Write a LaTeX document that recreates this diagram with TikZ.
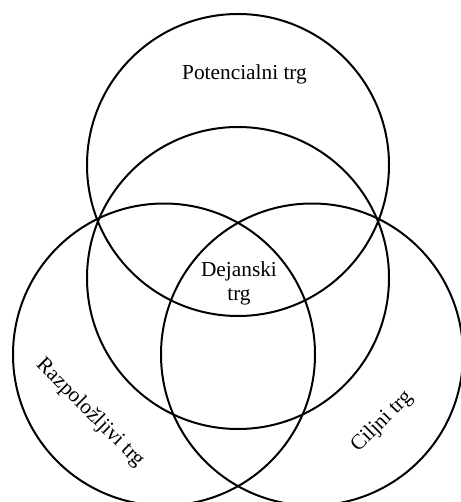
\documentclass[tikz,border=0pt]{standalone}
\usepackage{fontspec}
\setmainfont{Liberation Serif}
\usepackage{tikz}
\usetikzlibrary{positioning}

\begin{document}
\begin{tikzpicture}[x=0.75pt,y=-0.75pt]
	\tikzset{
		ring/.style={circle, draw=black, line width=1.5pt,
			minimum size=226.5pt, inner sep=0pt},
		lbl/.style={font=\fontsize{16}{18}\selectfont, inner sep=1pt, align=center}
	}
	\useasboundingbox (0,0) rectangle (460,502);
	
	% circles
	\node[ring] (pot) at (238,165) {};
	\node[ring] (mid) at (238,278) {};
	\node[ring] (raz) at (164,354.5) {};
	\node[ring] (cil) at (312,354.5) {};
	
	% labels
	\node[lbl] (tpot) at (244.5,74) {Potencialni trg};
	\node[lbl] (tdej) at (239,283) {Dejanski\\trg};
	\node[lbl, rotate=-45] (traz) at (90,413) {Razpoložljivi trg};
	\node[lbl, rotate=45] (tcil) at (382,422) {Ciljni trg};
\end{tikzpicture}
\end{document}
